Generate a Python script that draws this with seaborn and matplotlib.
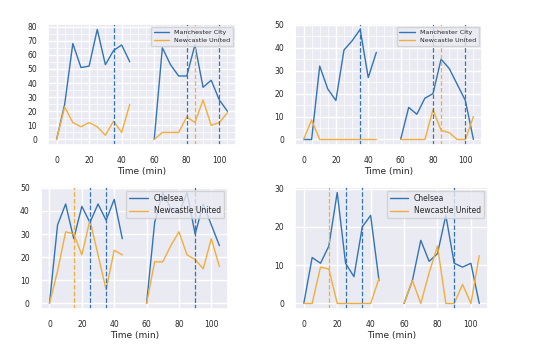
import numpy as np
import pandas as pd
import matplotlib
matplotlib.use("Agg")
import matplotlib.pyplot as plt
import seaborn as sns
from matplotlib.ticker import AutoMinorLocator, MultipleLocator

sns.set_theme(style="darkgrid")
plt.rcParams['font.family'] = ['DejaVu Sans']

time_first = [0, 5, 10, 15, 20, 25, 30, 35, 40, 45]
time_second = [60, 65, 70, 75, 80, 85, 90, 95, 100, 105]

# Panel 1: Manchester City vs Newcastle United (metric A)
p1_home = [0, 25, 68, 51, 52, 78, 53, 63, 67, 55, 0, 65, 53, 45, 45, 67, 37, 42, 28, 20]
p1_away = [0, 23, 12, 9, 12, 9, 3, 13, 5, 25, 0, 5, 5, 5, 16, 12, 28, 10, 12, 19]
p1_home_events = [35, 80, 100]
p1_away_events = [85]

# Panel 2: Manchester City vs Newcastle United (metric B)
p2_home = [0, 0, 32, 22, 17, 39, 43, 48, 27, 38, 0, 14, 11, 18, 20, 35, 31, 24, 17, 0]
p2_away = [0, 8.5, 0, 0, 0, 0, 0, 0, 0, 0, 0, 0, 0, 0, 13, 4, 3, 0, 0, 10]
p2_home_events = [35, 80, 100]
p2_away_events = [85]

# Panel 3: Chelsea vs Newcastle United (metric A)
p3_home = [0, 34, 43, 28, 42, 35, 43, 36, 45, 28, 0, 35, 48, 41, 39, 48, 30, 43, 34, 25]
p3_away = [0, 14, 31, 30, 21, 36, 21, 6, 23, 21, 0, 18, 18, 25, 31, 21, 19, 15, 28, 16]
p3_home_events = [25, 35, 90]
p3_away_events = [15]

# Panel 4: Chelsea vs Newcastle United (metric B)
p4_home = [0, 12, 10.5, 15, 29, 10.5, 7, 20, 23, 6, 0, 6, 16.5, 11, 13, 23, 10.5, 9.5, 10.5, 0]
p4_away = [0, 0, 9.5, 9, 0, 0, 0, 0, 0, 6.5, 0, 6, 0, 8, 15, 0, 0, 5, 0, 12.5]
p4_home_events = [25, 35, 90]
p4_away_events = [15]

blue = "#3274b5"
orange = "#f3ad3c"

panels = [
    ("Manchester City", p1_home, p1_away, p1_home_events, p1_away_events, True, 4.6),
    ("Manchester City", p2_home, p2_away, p2_home_events, p2_away_events, True, 4.6),
    ("Chelsea", p3_home, p3_away, p3_home_events, p3_away_events, False, 5.5),
    ("Chelsea", p4_home, p4_away, p4_home_events, p4_away_events, False, 5.5),
]

positions = [
    [0.0868, 0.5797, 0.340, 0.351],
    [0.5335, 0.5797, 0.338, 0.351],
    [0.0741, 0.1043, 0.338, 0.354],
    [0.5335, 0.1043, 0.349, 0.354],
]

fig = plt.figure(figsize=(5.53, 3.45), dpi=100)
times = time_first + time_second
halves = ["first"] * 10 + ["second"] * 10

for (home, hv, av, he, ae, minor, lfs), pos in zip(panels, positions):
    ax = fig.add_axes(pos)
    df = pd.DataFrame({
        "time": times * 2,
        "value": hv + av,
        "team": [home] * 20 + ["Newcastle United"] * 20,
        "half": halves * 2,
    })
    sns.lineplot(data=df, x="time", y="value", hue="team", units="half",
                 estimator=None, palette={home: blue, "Newcastle United": orange},
                 linewidth=1.0, ax=ax)
    for t in he:
        ax.axvline(t, color=blue, linestyle="--", linewidth=0.9)
    for t in ae:
        ax.axvline(t, color=orange, linestyle="--", linewidth=0.9)
    ax.set_xlabel("Time (min)", fontsize=6.5, labelpad=1)
    ax.set_ylabel("")
    ax.yaxis.set_major_locator(MultipleLocator(10))
    ax.xaxis.set_major_locator(MultipleLocator(20))
    ax.tick_params(labelsize=5.5, pad=2)
    if minor:
        ax.xaxis.set_minor_locator(AutoMinorLocator(4))
        ax.yaxis.set_minor_locator(AutoMinorLocator(2))
        ax.grid(which="minor", color="white", linewidth=0.5)
        ax.tick_params(which="minor", length=0)
    leg = ax.legend(loc="upper right", fontsize=lfs, title=None,
                    borderpad=0.4, labelspacing=0.45, handlelength=2.4)

fig.savefig("out.png", dpi=100)
